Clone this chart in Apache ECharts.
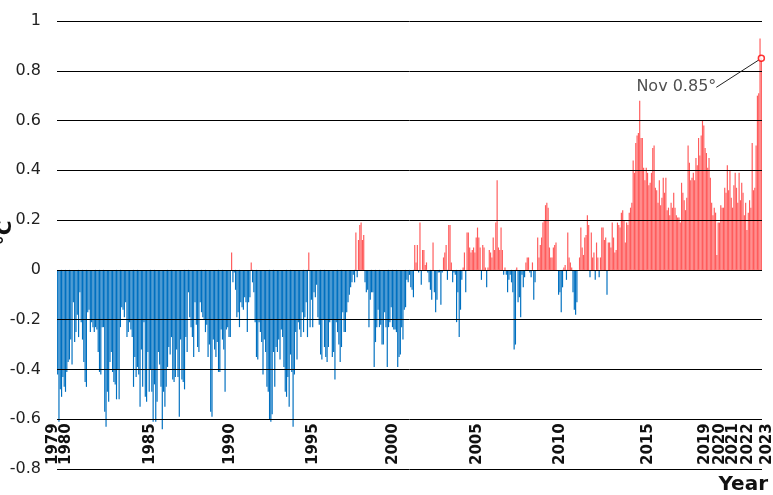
<!DOCTYPE html>
<html>
<head>
<meta charset="utf-8">
<script src="https://cdn.jsdelivr.net/npm/echarts@6/dist/echarts.min.js"></script>
<style>
html,body{margin:0;padding:0;background:#fff;}
#chart{width:773px;height:495px;}
</style>
</head>
<body>
<div id="chart"></div>
<script>
// Monthly anomalies (°C), one array per year, Jan..Dec
const y1979 = [-0.42,-0.61,-0.48,-0.51,-0.43,-0.47,-0.49,-0.41,-0.37,-0.36,-0.28,-0.38];
const y1980 = [-0.13,-0.29,-0.25,-0.18,-0.27,-0.09,-0.21,-0.28,-0.37,-0.45,-0.47,-0.17];
const y1981 = [-0.16,-0.25,-0.21,-0.23,-0.25,-0.23,-0.24,-0.33,-0.41,-0.42,-0.23,-0.23];
const y1982 = [-0.57,-0.63,-0.49,-0.53,-0.37,-0.33,-0.41,-0.45,-0.46,-0.52,-0.40,-0.52];
const y1983 = [-0.23,-0.15,-0.16,-0.19,-0.13,-0.27,-0.25,-0.21,-0.24,-0.27,-0.47,-0.35];
const y1984 = [-0.43,-0.39,-0.42,-0.55,-0.32,-0.47,-0.21,-0.51,-0.53,-0.33,-0.49,-0.40];
const y1985 = [-0.49,-0.61,-0.46,-0.61,-0.53,-0.33,-0.38,-0.47,-0.64,-0.49,-0.55,-0.47];
const y1986 = [-0.39,-0.31,-0.34,-0.27,-0.44,-0.45,-0.43,-0.32,-0.43,-0.59,-0.28,-0.44];
const y1987 = [-0.45,-0.48,-0.27,-0.33,-0.09,-0.19,-0.23,-0.27,-0.35,-0.13,-0.22,-0.31];
const y1988 = [-0.33,-0.13,-0.17,-0.19,-0.20,-0.25,-0.22,-0.35,-0.30,-0.57,-0.59,-0.28];
const y1989 = [-0.32,-0.35,-0.29,-0.41,-0.41,-0.24,-0.28,-0.32,-0.49,-0.24,-0.23,-0.27];
const y1990 = [-0.27,0.07,-0.05,-0.01,-0.08,-0.19,-0.17,-0.23,-0.13,-0.15,-0.16,-0.11];
const y1991 = [-0.13,-0.25,-0.13,-0.11,0.03,-0.05,-0.09,-0.21,-0.35,-0.36,-0.21,-0.25];
const y1992 = [-0.29,-0.42,-0.28,-0.33,-0.47,-0.49,-0.60,-0.61,-0.58,-0.33,-0.47,-0.31];
const y1993 = [-0.33,-0.28,-0.36,-0.24,-0.27,-0.39,-0.49,-0.51,-0.43,-0.55,-0.34,-0.41];
const y1994 = [-0.63,-0.42,-0.25,-0.36,-0.21,-0.24,-0.27,-0.17,-0.25,-0.19,-0.13,-0.27];
const y1995 = [0.07,-0.23,-0.12,-0.23,-0.09,-0.11,-0.06,-0.19,-0.22,-0.34,-0.36,-0.20];
const y1996 = [-0.31,-0.35,-0.37,-0.31,-0.21,-0.20,-0.35,-0.33,-0.44,-0.21,-0.25,-0.30];
const y1997 = [-0.37,-0.31,-0.17,-0.25,-0.25,-0.17,-0.13,-0.10,-0.07,-0.05,-0.02,-0.05];
const y1998 = [0.15,-0.03,0.12,0.18,0.19,0.12,0.14,-0.05,-0.09,-0.08,-0.23,-0.12];
const y1999 = [-0.09,-0.09,-0.39,-0.29,-0.23,-0.16,-0.23,-0.22,-0.30,-0.30,-0.17,-0.23];
const y2000 = [-0.39,-0.23,-0.21,-0.15,-0.23,-0.24,-0.24,-0.25,-0.39,-0.35,-0.34,-0.23];
const y2001 = [-0.28,-0.16,-0.15,-0.04,-0.05,-0.02,-0.07,-0.08,-0.11,0.10,0.03,0.10];
const y2002 = [-0.01,0.19,-0.06,0.08,0.08,0.02,0.03,-0.01,-0.05,-0.08,-0.12,0.11];
const y2003 = [-0.09,-0.17,-0.12,-0.01,-0.01,-0.14,-0.01,0.05,0.07,0.10,-0.04,0.18];
const y2004 = [0.18,0.03,-0.05,-0.01,-0.02,-0.21,-0.09,-0.27,-0.16,-0.04,0.01,0.07];
const y2005 = [-0.09,0.15,0.15,0.09,0.07,0.08,0.09,0.07,0.13,0.17,0.13,0.09];
const y2006 = [-0.04,0.10,0.09,0.01,-0.07,0.01,0.08,0.07,0.05,0.13,0.08,0.19];
const y2007 = [0.36,0.09,0.08,0.17,0.08,-0.02,0.01,-0.02,-0.09,-0.04,-0.02,-0.05];
const y2008 = [-0.09,-0.32,-0.30,0.01,-0.13,-0.11,-0.19,-0.02,-0.07,-0.03,0.03,0.05];
const y2009 = [0.05,-0.01,-0.03,0.03,-0.12,-0.05,0.00,0.13,0.05,0.10,0.13,0.19];
const y2010 = [0.20,0.26,0.27,0.25,0.09,0.05,0.05,0.09,0.10,0.11,0.00,-0.10];
const y2011 = [-0.09,-0.17,-0.07,0.01,0.02,-0.04,0.15,0.05,0.03,0.01,-0.09,-0.16];
const y2012 = [-0.18,-0.13,0.00,0.05,0.17,0.09,0.06,0.13,0.14,0.22,0.18,-0.03];
const y2013 = [0.15,0.05,0.07,-0.04,0.11,0.05,-0.03,0.05,0.17,0.17,0.12,0.13];
const y2014 = [-0.10,0.11,0.11,0.09,0.19,0.13,0.07,0.08,0.19,0.18,0.17,0.23];
const y2015 = [0.24,0.20,0.11,0.19,0.18,0.23,0.25,0.27,0.44,0.39,0.51,0.54];
const y2016 = [0.55,0.68,0.53,0.53,0.41,0.36,0.41,0.39,0.34,0.35,0.39,0.49];
const y2017 = [0.50,0.33,0.32,0.27,0.36,0.26,0.29,0.37,0.31,0.37,0.24,0.25];
const y2018 = [0.22,0.27,0.25,0.31,0.25,0.22,0.21,0.21,0.19,0.35,0.31,0.28];
const y2019 = [0.24,0.29,0.50,0.43,0.36,0.37,0.39,0.36,0.45,0.42,0.53,0.46];
const y2020 = [0.54,0.60,0.58,0.49,0.47,0.41,0.45,0.37,0.27,0.22,0.25,0.23];
const y2021 = [0.06,0.19,0.19,0.26,0.25,0.25,0.33,0.31,0.42,0.32,0.40,0.29];
const y2022 = [0.25,0.34,0.39,0.33,0.27,0.39,0.28,0.35,0.31,0.22,0.27,0.16];
const y2023 = [0.23,0.28,0.25,0.51,0.32,0.33,0.50,0.70,0.71,0.93,0.85];

const years = [1979,1980,1981,1982,1983,1984,1985,1986,1987,1988,1989,1990,1991,1992,1993,1994,1995,1996,1997,1998,1999,2000,2001,2002,2003,2004,2005,2006,2007,2008,2009,2010,2011,2012,2013,2014,2015,2016,2017,2018,2019,2020,2021,2022,2023];
const yearSeries = [y1979,y1980,y1981,y1982,y1983,y1984,y1985,y1986,y1987,y1988,y1989,y1990,y1991,y1992,y1993,y1994,y1995,y1996,y1997,y1998,y1999,y2000,y2001,y2002,y2003,y2004,y2005,y2006,y2007,y2008,y2009,y2010,y2011,y2012,y2013,y2014,y2015,y2016,y2017,y2018,y2019,y2020,y2021,y2022,y2023];
const monthNames = ['Jan','Feb','Mar','Apr','May','Jun','Jul','Aug','Sep','Oct','Nov','Dec'];

// Year tick labels shown under the bars
const yearLabels = ['1979','1980','1985','1990','1995','2000','2005','2010','2015','2019','2020','2021','2022','2023'];
// Layout: horizontal centre (px) of each rotated year label, as placed in the reference
const yearLabelX = [53, 66, 150, 230, 313, 393, 477, 560, 648, 705, 720, 733, 748, 767];

const categories = [];
const values = [];
yearSeries.forEach(function (arr, k) {
  arr.forEach(function (v, m) {
    categories.push(monthNames[m] + ' ' + years[k]);
    values.push(v);
  });
});
const lastIdx = values.length - 1;
const lastVal = values[lastIdx];
const lastMonth = monthNames[(yearSeries[yearSeries.length - 1].length - 1)];

const FONT = 'DejaVu Sans';
const chart = echarts.init(document.getElementById('chart'), null, {renderer: 'canvas'});
chart.setOption({
  animation: false,
  backgroundColor: '#ffffff',
  grid: [
    {left: 57, right: 11, top: 21, bottom: 26, outerBoundsMode: 'none', containLabel: false},
    {left: 0, right: 0, top: 21, bottom: 26, outerBoundsMode: 'none', containLabel: false}
  ],
  xAxis: [
    {
      gridIndex: 0, type: 'category', data: categories, boundaryGap: true,
      axisLine: {show: false, onZero: false}, axisTick: {show: false},
      axisLabel: {show: false}, splitLine: {show: false},
      name: 'Year', nameLocation: 'end', nameGap: 6, nameMoveOverlap: false,
      nameTextStyle: {fontFamily: FONT, fontSize: 20, fontWeight: 'bold', color: '#111',
        align: 'right', verticalAlign: 'top', padding: [6, 0, 0, 0]}
    },
    {
      gridIndex: 1, type: 'value', min: 0, max: 773, position: 'bottom',
      axisLine: {show: false, onZero: false}, axisTick: {show: false}, splitLine: {show: false},
      axisLabel: {
        // a leading blank slot at the axis start keeps the first year label from being treated as the min label
        customValues: [0].concat(yearLabelX),
        showMinLabel: true, showMaxLabel: true, hideOverlap: false,
        formatter: function (v) { const i = yearLabelX.indexOf(v); return i >= 0 ? yearLabels[i] : ''; },
        rotate: 90, inside: true, margin: 4,
        fontFamily: FONT, fontSize: 15, fontWeight: 'bold', color: '#111'
      }
    }
  ],
  yAxis: [
    {
      gridIndex: 0, type: 'value', min: -0.8, max: 1, interval: 0.2, z: 3,
      axisLine: {show: false}, axisTick: {show: false},
      axisLabel: {margin: 16, fontFamily: FONT, fontSize: 16, color: '#222',
        formatter: function (v) { return String(+v.toFixed(1)); }},
      splitLine: {show: true, lineStyle: {color: '#000', width: 1}},
      name: '°C', nameLocation: 'middle', nameRotate: 90, nameGap: 41, nameMoveOverlap: false,
      nameTextStyle: {fontFamily: FONT, fontSize: 20, fontWeight: 'bold', color: '#111', padding: [0, 0, 0, 24]}
    },
    {gridIndex: 1, type: 'value', min: 0, max: 1, show: false}
  ],
  series: [
    {
      type: 'bar', xAxisIndex: 0, yAxisIndex: 0,
      data: values, barCategoryGap: '10%',
      itemStyle: {color: function (p) { return p.value >= 0 ? '#ff5c5c' : '#0070c0'; }},
      z: 2
    },
    {
      type: 'scatter', xAxisIndex: 0, yAxisIndex: 0,
      data: [[lastIdx, lastVal]],
      symbol: 'circle', symbolSize: 6,
      itemStyle: {color: '#ffffff', borderColor: '#ff0000', borderWidth: 1.5},
      label: {show: true, position: 'inside', fontFamily: FONT, fontSize: 16, color: '#222',
        padding: [14, 0, 0, 0],
        formatter: lastMonth + ' ' + lastVal.toFixed(2) + '°'},
      labelLayout: {dx: -85, dy: 29},
      labelLine: {show: true, lineStyle: {color: '#222', width: 1}},
      z: 6
    }
  ]
});
</script>
</body>
</html>
